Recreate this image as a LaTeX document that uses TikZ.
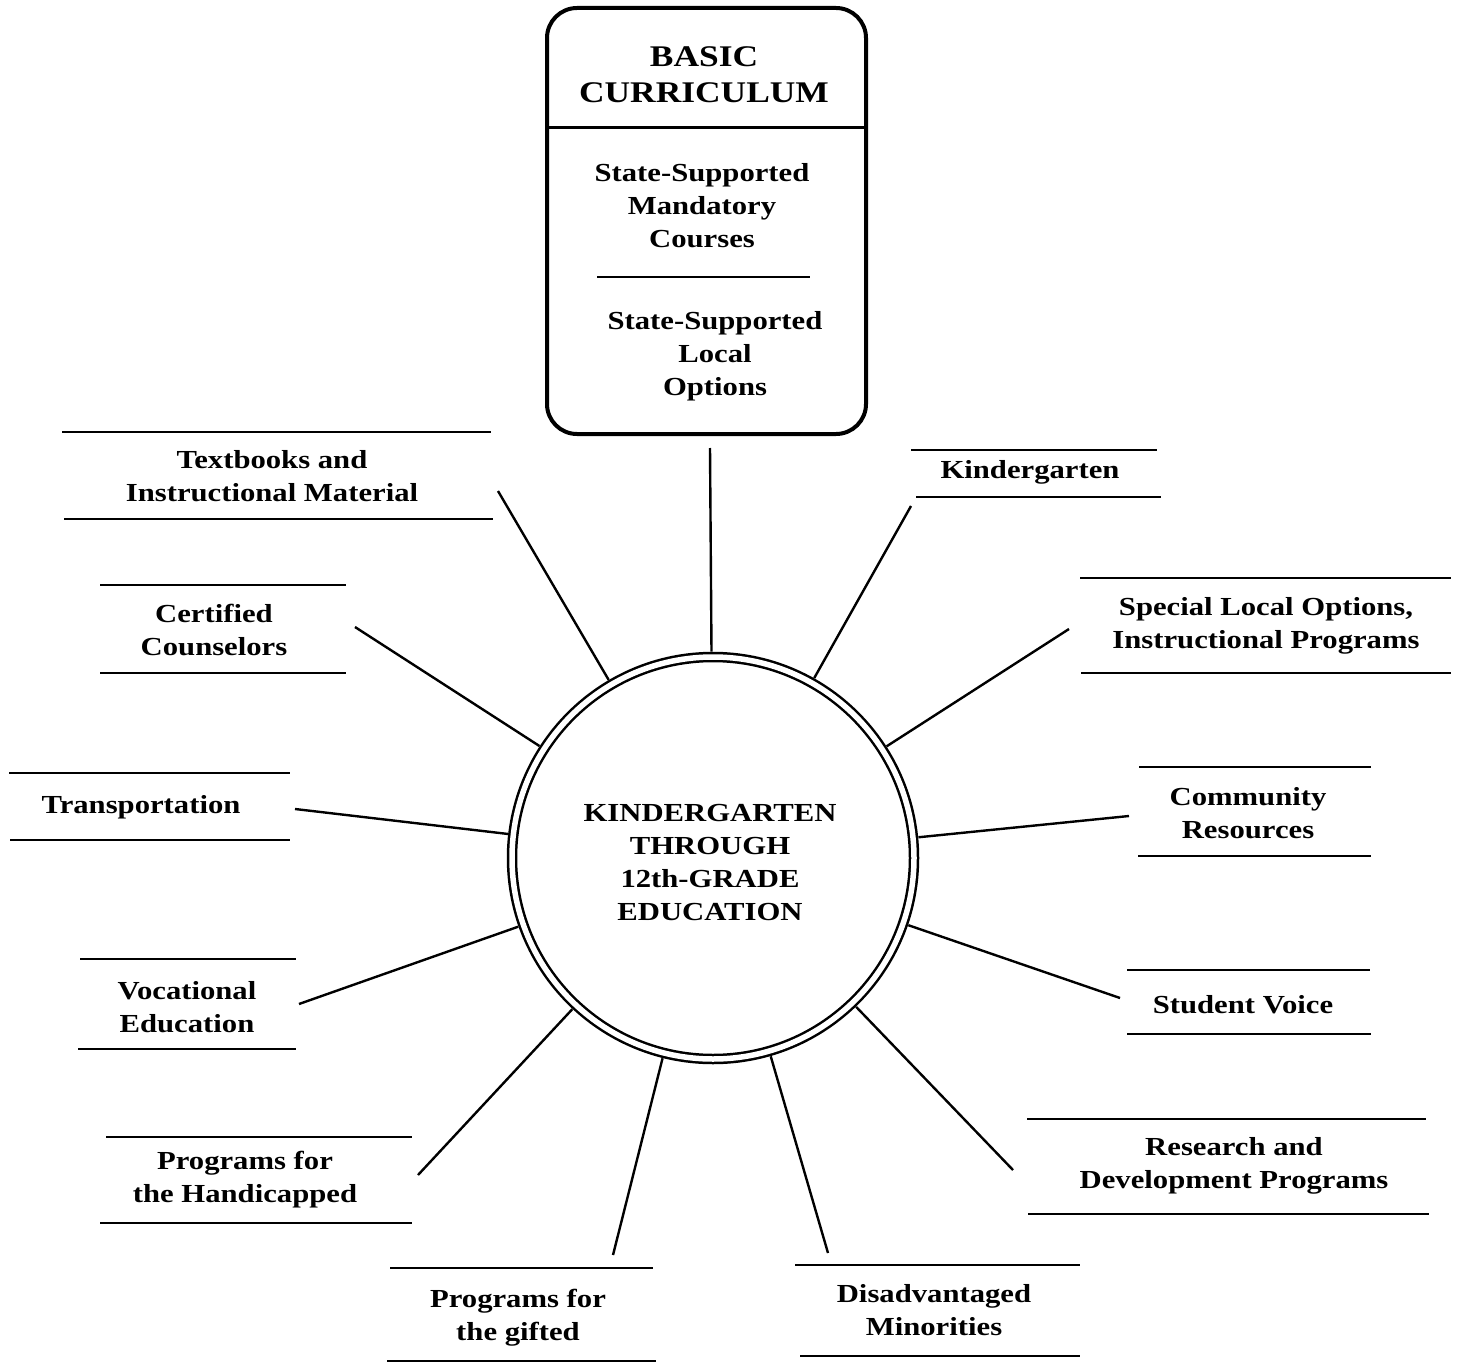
\documentclass[tikz,border=0pt]{standalone}
\usepackage{fontspec}
\setmainfont{Liberation Serif}[FakeStretch=1.18]
\begin{document}
\begin{tikzpicture}[x=1pt,y=-1pt,
  lbl/.style={font=\fontsize{26}{33}\selectfont\bfseries, align=center, inner sep=0pt},
  rule/.style={line width=2.8pt},
  spoke/.style={line width=2.4pt}]
\useasboundingbox (0,0) rectangle (1461,1364);

% top box
\node[draw, line width=4pt, rounded corners=30pt, minimum width=319pt, minimum height=426pt, inner sep=0pt] (box) at (706.5,221) {};
\draw[line width=3pt] (box.west |- 0,128) -- (box.east |- 0,128);
\draw[line width=2.6pt] (597,277) -- (810,277);
\node[lbl, font=\fontsize{30}{36}\selectfont\bfseries] (basic) at (704,75) {BASIC\\CURRICULUM};
\node[lbl] (mand) at (702,206) {State-Supported\\Mandatory\\Courses};
\node[lbl] (locopt) at (715,356) {State-Supported\\Local\\Options};

% hub
\node[circle, draw, double, double distance=5.5pt, line width=2.5pt, minimum size=402pt, outer sep=5.5pt] (hub) at (713,858) {};
\node[lbl, font=\fontsize{26}{33}\selectfont\bfseries] (hubtxt) at (710,863) {KINDERGARTEN\\THROUGH\\12th-GRADE\\EDUCATION};

% spoke ends
\coordinate (e1) at (710,448);
\coordinate (e2) at (911,506);
\coordinate (e3) at (1069,629);
\coordinate (e4) at (1129,816);
\coordinate (e5) at (1120,998);
\coordinate (e6) at (1013,1170);
\coordinate (e7) at (828,1253);
\coordinate (e8) at (613,1255);
\coordinate (e9) at (418,1175);
\coordinate (e10) at (299,1004);
\coordinate (e11) at (295,809);
\coordinate (e12) at (355,627);
\coordinate (e13) at (498,491);
\foreach \i in {1,...,13} \draw[spoke] (hub) -- (e\i);

% labels
\node[lbl] (kg) at (1030,472) {Kindergarten};
\draw[rule] (911,450) -- (1157,450); \draw[rule] (916,497) -- (1161,497);

\node[lbl] (spec) at (1266,626) {Special Local Options,\\Instructional Programs};
\draw[rule] (1080,578) -- (1451,578); \draw[rule] (1081,673) -- (1451,673);

\node[lbl] (comm) at (1248,813) {Community\\Resources};
\draw[rule] (1139,767) -- (1371,767); \draw[rule] (1138,856) -- (1371,856);

\node[lbl] (sv) at (1243,1005) {Student Voice};
\draw[rule] (1127,970) -- (1370,970); \draw[rule] (1127,1034) -- (1371,1034);

\node[lbl] (rd) at (1234,1166) {Research and\\Development Programs};
\draw[rule] (1027,1119) -- (1426,1119); \draw[rule] (1028,1214) -- (1429,1214);

\node[lbl] (dm) at (934,1310) {Disadvantaged\\Minorities};
\draw[rule] (795,1265) -- (1080,1265); \draw[rule] (800,1356) -- (1080,1356);

\node[lbl] (gift) at (518,1318) {Programs for\\the gifted};
\draw[rule] (390,1268) -- (653,1268); \draw[rule] (387,1361) -- (656,1361);

\node[lbl] (hand) at (245,1180) {Programs for\\the Handicapped};
\draw[rule] (106,1137) -- (412,1137); \draw[rule] (100,1223) -- (412,1223);

\node[lbl] (voc) at (187,1007) {Vocational\\Education};
\draw[rule] (80,959) -- (296,959); \draw[rule] (78,1049) -- (296,1049);

\node[lbl] (trans) at (141,807) {Transportation};
\draw[rule] (9,773) -- (290,773); \draw[rule] (10,840) -- (290,840);

\node[lbl] (cert) at (214,630) {Certified\\Counselors};
\draw[rule] (100,585) -- (346,585); \draw[rule] (100,673) -- (346,673);

\node[lbl] (text) at (272,476) {Textbooks and\\Instructional Material};
\draw[rule] (62,432) -- (491,432); \draw[rule] (64,519) -- (493,519);
\end{tikzpicture}
\end{document}
